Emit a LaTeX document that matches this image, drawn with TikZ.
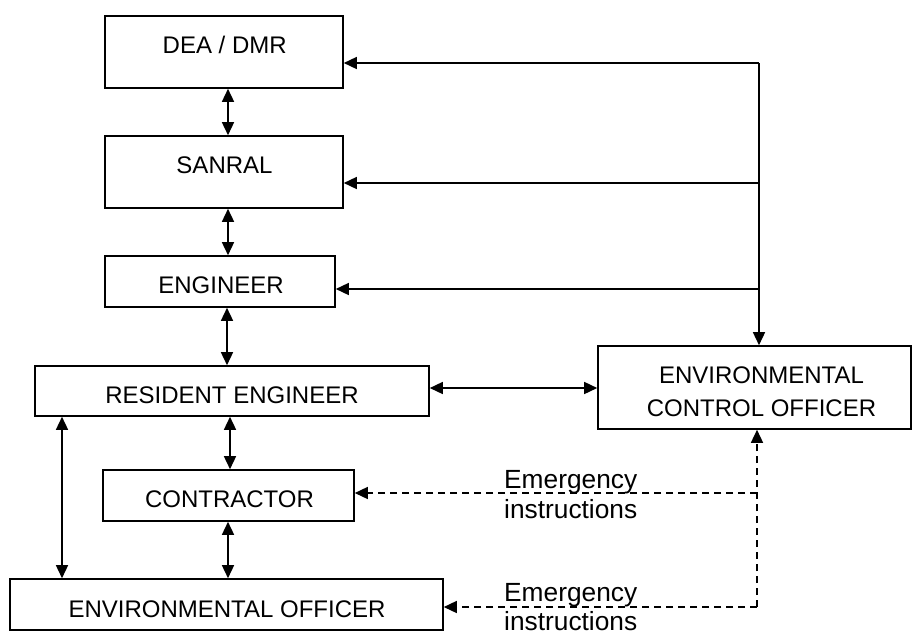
\documentclass[tikz,border=0pt]{standalone}
\usepackage{fontspec}
\setmainfont{Liberation Sans}
\usetikzlibrary{arrows.meta}
\begin{document}
\begin{tikzpicture}[x=1pt,y=-1pt,
  box/.style={draw,line width=1.6pt,rectangle,inner sep=0pt},
  txt/.style={inner sep=0pt,font=\fontsize{24pt}{28pt}\selectfont},
  lbl/.style={inner sep=0pt,anchor=base west,font=\fontsize{26.3pt}{30pt}\selectfont},
  conn/.style={line width=1.5pt},
  tip/.style={-{Triangle[length=13pt,width=12pt]}},
  one/.style={conn,tip},
  both/.style={conn,{Triangle[length=13pt,width=12pt]}-{Triangle[length=13pt,width=12pt]}},
  dsh/.style={conn,dash pattern=on 7pt off 5pt,tip}]
\useasboundingbox (0,0) rectangle (913,632);
\fill[white] (0,0) rectangle (913,632);
% boxes
\node[box,minimum width=238pt,minimum height=72pt] (dea) at (224,52) {};
\node[box,minimum width=238pt,minimum height=72pt] (san) at (224,172) {};
\node[box,minimum width=230pt,minimum height=51pt] (eng) at (220,281.5) {};
\node[box,minimum width=394pt,minimum height=50pt] (re) at (232,391) {};
\node[box,minimum width=313pt,minimum height=83pt] (eco) at (754.5,387.5) {};
\node[box,minimum width=251pt,minimum height=51pt] (con) at (228.5,495.5) {};
\node[box,minimum width=433pt,minimum height=51pt] (eo) at (226.5,604.5) {};
% texts
\node[txt,anchor=base] (deat) at (224.7,53) {DEA / DMR};
\node[txt,anchor=base] (sant) at (224.5,173) {SANRAL};
\node[txt,anchor=base] (engt) at (221,293) {ENGINEER};
\node[txt,anchor=base] (ret) at (232,403) {RESIDENT ENGINEER};
\node[txt,anchor=base] (ecot1) at (761.5,383) {ENVIRONMENTAL};
\node[txt,anchor=base] (ecot2) at (761.5,416) {CONTROL OFFICER};
\node[txt,anchor=base] (cont) at (229.5,507) {CONTRACTOR};
\node[txt,anchor=base] (eot) at (227,617) {ENVIRONMENTAL OFFICER};
\node[lbl] (em1a) at (504,488) {Emergency};
\node[lbl] (em1b) at (504,518) {instructions};
\node[lbl] (em2a) at (504,601) {Emergency};
\node[lbl] (em2b) at (504,630) {instructions};
% right-hand feed lines
\coordinate (ctop) at (759,63);
\coordinate (cmid) at (759,183);
\coordinate (clow) at (759,289);
\draw[one] (ctop) -- (ctop |- eco.north);
\draw[one] (ctop) -- (ctop -| dea.east);
\draw[one] (cmid) -- (cmid -| san.east);
\draw[one] (clow) -- (clow -| eng.east);
% vertical double arrows
\coordinate (xa) at (228,0);
\coordinate (xb) at (227,0);
\coordinate (xc) at (230,0);
\coordinate (xl) at (62,0);
\draw[both] (dea.south -| xa) -- (san.north -| xa);
\draw[both] (san.south -| xa) -- (eng.north -| xa);
\draw[both] (eng.south -| xb) -- (re.north -| xb);
\draw[both] (re.south -| xc) -- (con.north -| xc);
\draw[both] (con.south -| xa) -- (eo.north -| xa);
\draw[both] (re.south -| xl) -- (eo.north -| xl);
\coordinate (yr) at (0,388);
\draw[both] (re.east |- yr) -- (eco.west |- yr);
% dashed emergency lines
\coordinate (dtop) at (757,493);
\coordinate (dbot) at (757,607);
\draw[dsh] (dbot) -- (dbot |- eco.south);
\draw[dsh] (dtop) -- (dtop -| con.east);
\draw[dsh] (dbot) -- (dbot -| eo.east);
\end{tikzpicture}
\end{document}
